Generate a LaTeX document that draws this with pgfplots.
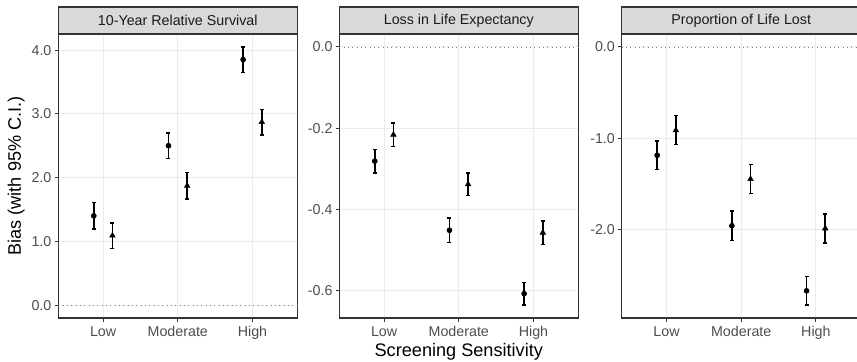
\documentclass[border=0pt]{standalone}
\usepackage{pgfplots}
\pgfplotsset{compat=1.18}
\usepackage{fontspec}
\setmainfont{Liberation Sans}
\definecolor{gridc}{HTML}{EBEBEB}
\definecolor{borderc}{HTML}{333333}
\definecolor{tickc}{HTML}{4D4D4D}
\definecolor{stripc}{HTML}{D9D9D9}
\definecolor{striptext}{HTML}{1A1A1A}
\definecolor{zeroc}{HTML}{7F7F7F}

% data: x  y  err
\pgfplotstableread{
x y e
0.875 1.40 0.205
1.875 2.50 0.200
2.875 3.85 0.200
}\RSc
\pgfplotstableread{
x y e
1.125 1.09 0.200
2.125 1.87 0.205
3.125 2.87 0.200
}\RSt
\pgfplotstableread{
x y e
0.875 -0.281 0.029
1.875 -0.451 0.030
2.875 -0.607 0.028
}\LEc
\pgfplotstableread{
x y e
1.125 -0.216 0.029
2.125 -0.338 0.028
3.125 -0.457 0.029
}\LEt
\pgfplotstableread{
x y e
0.875 -1.186 0.158
1.875 -1.957 0.160
2.875 -2.669 0.155
}\PLc
\pgfplotstableread{
x y e
1.125 -0.912 0.158
2.125 -1.446 0.157
3.125 -1.986 0.159
}\PLt

\newcommand{\strip}[1]{%
  \draw[fill=stripc, draw=borderc, line width=0.8pt] (rel axis cs:0,1) rectangle ([yshift=20.25pt]rel axis cs:1,1);
  \node[font=\fontsize{10.7}{12}\selectfont, text=striptext, inner sep=0pt] at ([yshift=10.1pt]rel axis cs:0.5,1) {#1};
}

\pgfplotsset{
  panel/.style={
    scale only axis,
    width=179.25pt, height=213pt,
    anchor=south west,
    xmin=0.4, xmax=3.6,
    xtick={1,2,3},
    xticklabels={Low,Moderate,High},
    xtick pos=bottom, ytick pos=left,
    axis line style={draw=borderc, line width=0.8pt},
    tick style={draw=borderc, line width=0.8pt},
    tick align=outside,
    major tick length=2.75pt,
    minor tick num=0,
    grid=major,
    major grid style={draw=gridc, line width=0.8pt},
    ticklabel style={font=\fontsize{10.7}{12}\selectfont, text=tickc},
    xticklabel style={anchor=north, inner sep=0pt, yshift=-3.5pt},
    yticklabel style={anchor=east, inner sep=0pt, xshift=-2.2pt},
    yticklabel={\pgfmathprintnumber[fixed,fixed zerofill,precision=1]{\tick}},
    /pgf/number format/assume math mode=true,
    clip=false,
  },
  circ/.style={only marks, mark=*, mark size=1.9pt, black,
    error bars/.cd, y dir=both, y explicit,
    error bar style={line width=1.2pt, black},
    error mark options={rotate=90, mark size=1.5pt, line width=1.0pt, black}},
  tri/.style={only marks, mark=triangle*, mark size=2.4pt, black,
    error bars/.cd, y dir=both, y explicit,
    error bar style={line width=1.2pt, black},
    error mark options={rotate=90, mark size=1.5pt, line width=1.0pt, black}},
}

\begin{document}
\begin{tikzpicture}
\useasboundingbox (0,0) rectangle (642.75pt,270.75pt);

% Panel 1
\begin{axis}[panel, at={(43.725pt,32.25pt)},
  ymin=-0.2025, ymax=4.2525, ytick={0,1,2,3,4},
  ylabel={Bias (with 95\% C.I.)},
  ylabel style={font=\fontsize{13.6}{15}\selectfont, text=black, at={(axis description cs:0,0.5)}, anchor=south, yshift=25pt, inner sep=0pt},
]
\addplot[zeroc, line width=0.6pt, dash pattern=on 0.75pt off 2.5pt] coordinates {(0.4,0) (3.6,0)};
\addplot[circ] table[x=x, y=y, y error=e] {\RSc};
\addplot[tri] table[x=x, y=y, y error=e] {\RSt};
\strip{10-Year Relative Survival}
\end{axis}

% Panel 2
\begin{axis}[panel, at={(254.475pt,32.25pt)},
  ymin=-0.6668, ymax=0.0318, ytick={0,-0.2,-0.4,-0.6},
  xlabel={Screening Sensitivity},
  xlabel style={font=\fontsize{13.6}{15}\selectfont, text=black, at={(axis description cs:0.5,0)}, anchor=north, yshift=-18.5pt, inner sep=0pt},
]
\addplot[zeroc, line width=0.6pt, dash pattern=on 0.75pt off 2.5pt] coordinates {(0.4,0) (3.6,0)};
\addplot[circ] table[x=x, y=y, y error=e] {\LEc};
\addplot[tri] table[x=x, y=y, y error=e] {\LEt};
\strip{Loss in Life Expectancy}
\end{axis}

% Panel 3
\begin{axis}[panel, at={(466.275pt,32.25pt)},
  ymin=-2.966, ymax=0.1412, ytick={0,-1,-2},
]
\addplot[zeroc, line width=0.6pt, dash pattern=on 0.75pt off 2.5pt] coordinates {(0.4,0) (3.6,0)};
\addplot[circ] table[x=x, y=y, y error=e] {\PLc};
\addplot[tri] table[x=x, y=y, y error=e] {\PLt};
\strip{Proportion of Life Lost}
\end{axis}
\end{tikzpicture}
\end{document}
